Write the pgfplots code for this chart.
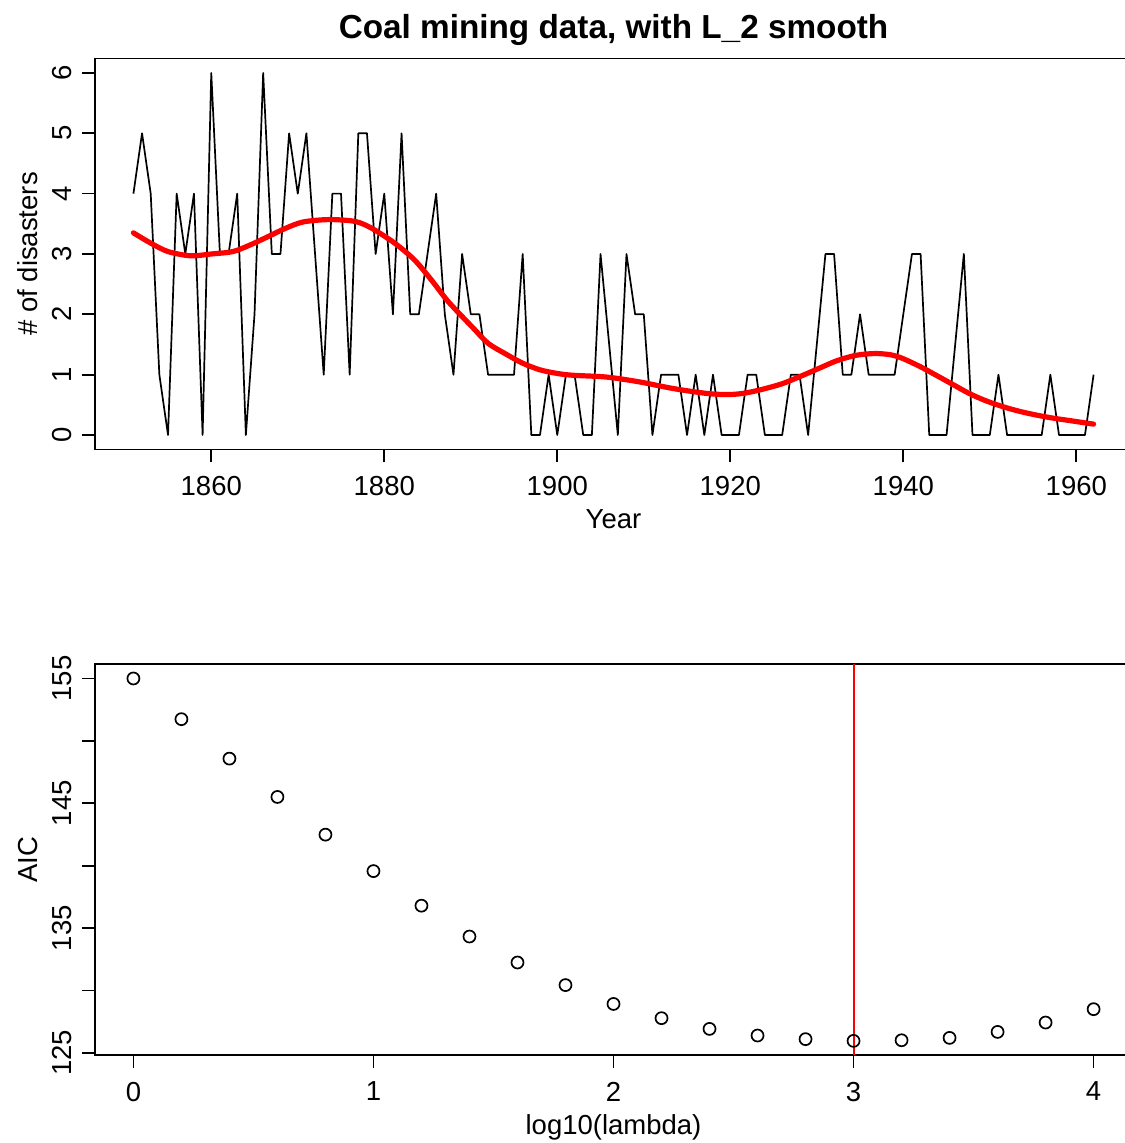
\documentclass[border=0pt]{standalone}
\usepackage{fontspec}
\setmainfont{Liberation Sans}
\usepackage{pgfplots}
\pgfplotsset{compat=1.18}
\definecolor{rred}{RGB}{255,0,0}

\pgfplotstableread{
year count
1851 4
1852 5
1853 4
1854 1
1855 0
1856 4
1857 3
1858 4
1859 0
1860 6
1861 3
1862 3
1863 4
1864 0
1865 2
1866 6
1867 3
1868 3
1869 5
1870 4
1871 5
1872 3
1873 1
1874 4
1875 4
1876 1
1877 5
1878 5
1879 3
1880 4
1881 2
1882 5
1883 2
1884 2
1885 3
1886 4
1887 2
1888 1
1889 3
1890 2
1891 2
1892 1
1893 1
1894 1
1895 1
1896 3
1897 0
1898 0
1899 1
1900 0
1901 1
1902 1
1903 0
1904 0
1905 3
1907 0
1908 3
1909 2
1910 2
1911 0
1912 1
1913 1
1914 1
1915 0
1916 1
1917 0
1918 1
1919 0
1920 0
1921 0
1922 1
1923 1
1924 0
1925 0
1926 0
1927 1
1928 1
1929 0
1931 3
1932 3
1933 1
1934 1
1935 2
1936 1
1937 1
1938 1
1939 1
1940 2
1941 3
1942 3
1943 0
1944 0
1945 0
1947 3
1948 0
1949 0
1950 0
1951 1
1952 0
1953 0
1954 0
1955 0
1956 0
1957 1
1958 0
1959 0
1960 0
1961 0
1962 1
}\coaldata

\pgfplotstableread{
year fit
1851 3.35
1853 3.18
1855 3.04
1857.6 2.97
1860 3.00
1862.5 3.04
1864.5 3.15
1866.6 3.29
1868.5 3.42
1870.6 3.53
1873.6 3.57
1876.6 3.54
1878.5 3.43
1881.2 3.18
1883.5 2.90
1885.5 2.56
1887.4 2.21
1890.3 1.77
1892 1.52
1894.2 1.33
1896 1.19
1898 1.08
1900 1.02
1901.8 0.99
1905.7 0.96
1909.5 0.88
1913.4 0.77
1917.2 0.69
1919.6 0.67
1921.5 0.69
1923.5 0.75
1926 0.85
1928.4 0.99
1930.5 1.12
1932.3 1.23
1934.5 1.32
1936.7 1.35
1938.5 1.33
1939.9 1.27
1942 1.13
1943.8 0.99
1945.7 0.84
1947.6 0.69
1949.5 0.57
1951.5 0.47
1953.5 0.39
1955.4 0.33
1957.3 0.28
1959.2 0.24
1962 0.18
}\smoothdata

\pgfplotstableread{
loglam aic
0.0 155.00
0.2 151.74
0.4 148.58
0.6 145.51
0.8 142.49
1.0 139.57
1.2 136.80
1.4 134.33
1.6 132.25
1.8 130.44
2.0 128.93
2.2 127.79
2.4 126.93
2.6 126.40
2.8 126.11
3.0 125.97
3.2 126.02
3.4 126.21
3.6 126.69
3.8 127.44
4.0 128.51
}\aicdata

\pgfplotstableread{
loglam aic
3 124.84
3 156.16
}\vline

\pgfplotsset{
  rstyle/.style={
    scale only axis, width=518.5pt, height=195.5pt,
    anchor=south west,
    axis line style={line width=0.85pt},
    tick style={line width=0.85pt, black},
    tick align=outside, major tick length=6.5pt,
    tick pos=left,
    /pgf/number format/assume math mode=true,
    /pgf/number format/1000 sep={},
    tick label style={font=\fontsize{13.75}{16}\selectfont},
    label style={font=\fontsize{13.75}{16}\selectfont},
    xticklabel style={anchor=north, inner sep=0pt},
    yticklabel style={rotate=90, anchor=south, inner sep=0pt},
    xticklabel shift=6.75pt,
    yticklabel shift=5.15pt,
    xlabel style={at={(axis description cs:0.5,-0.2033)}, anchor=base},
    ylabel style={at={(axis description cs:-0.05516,0.5)}, anchor=base},
  }
}

\begin{document}
\begin{tikzpicture}[x=1pt,y=1pt]
\useasboundingbox (0,0) rectangle (562,571.5);

\begin{axis}[rstyle, at={(47.5pt,346.75pt)},
  xmin=1846.56, xmax=1966.44, ymin=-0.24, ymax=6.24,
  xtick={1860,1880,...,1960}, ytick={0,1,...,6},
  xlabel={Year}, ylabel={\# of disasters},
  title={Coal mining data, with L\_2 smooth},
  title style={at={(axis description cs:0.5,1)}, anchor=base, yshift=4pt,
    font=\bfseries\fontsize{16.65}{19}\selectfont}]
  \addplot[black, line width=0.85pt, line join=round] table[x=year, y=count] {\coaldata};
  \addplot[draw=rred, line width=2.6pt, smooth, tension=0.5, line cap=round] table[x=year, y=fit] {\smoothdata};
\end{axis}

\begin{axis}[rstyle, at={(47.5pt,44pt)},
  xmin=-0.16, xmax=4.16, ymin=124.84, ymax=156.16,
  xtick={0,1,2,3,4}, ytick={125,130,...,155},
  yticklabels={125,,135,,145,,155},
  xlabel={log10(lambda)}, ylabel={AIC}]
  \addplot[only marks, mark=o, mark size=3pt, mark options={line width=0.85pt, black}] table[x=loglam, y=aic] {\aicdata};
  \addplot[color=rred, line width=1pt, mark=none, forget plot] table[x=loglam, y=aic] {\vline};
\end{axis}
\end{tikzpicture}
\end{document}
